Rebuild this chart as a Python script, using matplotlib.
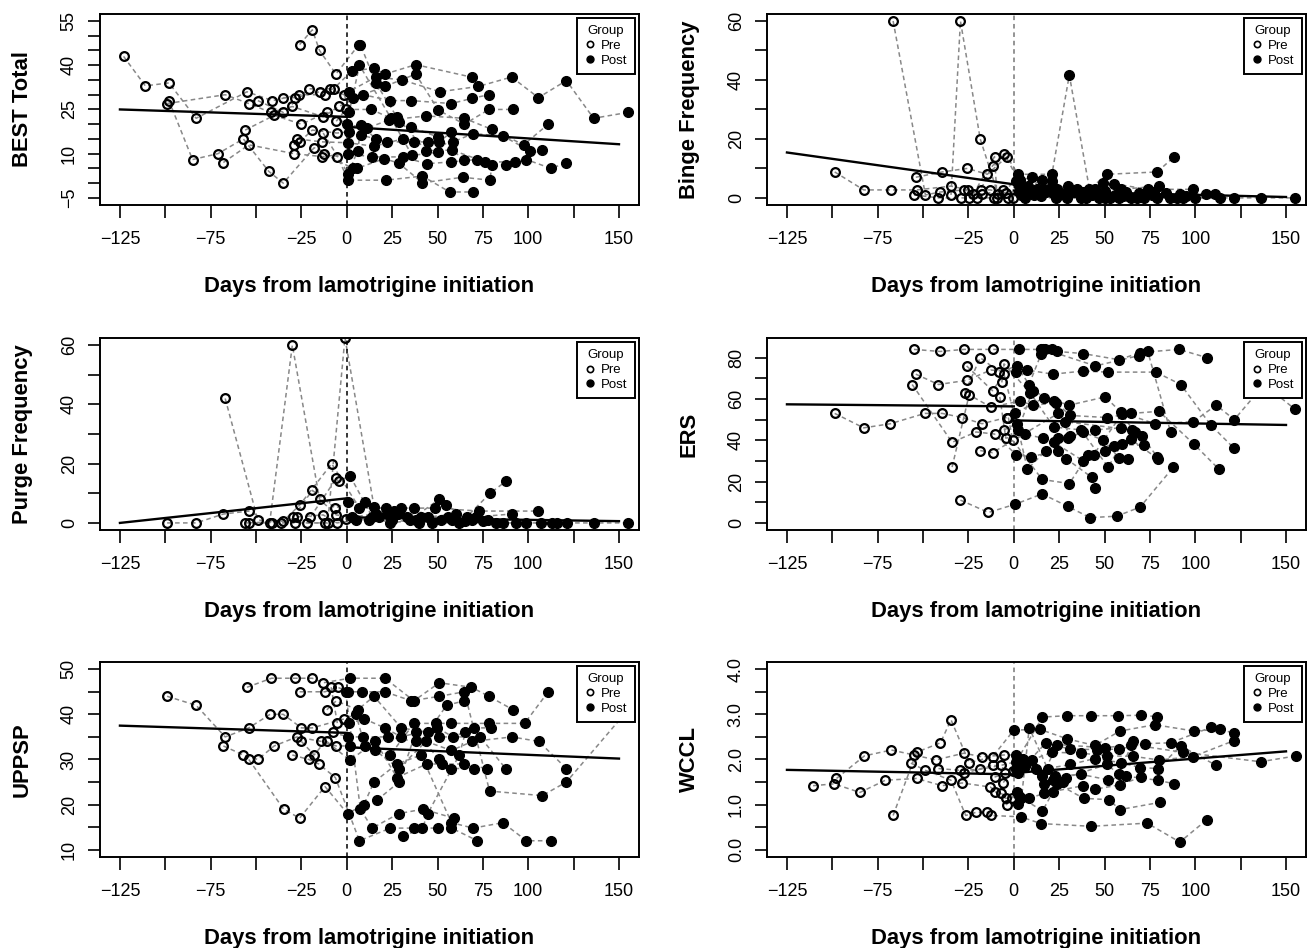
import matplotlib

matplotlib.use("Agg")

import matplotlib.pyplot as plt
from matplotlib.lines import Line2D

plt.rcParams["font.family"] = ["Liberation Sans", "DejaVu Sans"]

X_TICKS = [-125, -100, -75, -50, -25, 0, 25, 50, 75, 100, 125, 150]
X_TICK_LABELS = ["\u2212125", "", "\u221275", "", "\u221225", "0", "25", "50", "75", "100", "", "150"]
X_LABEL = "Days from lamotrigine initiation"

FIT_DAYS_PRE = [-125, 0]
FIT_DAYS_POST = [0, 150]

# each subject: list of (day, score) visits
BEST_SUBJECTS = [
    [(-123, 43), (-111, 33), (-98, 34), (-83, 22), (-55, 31), (-41, 28), (-26.5, 30), (-12, 30), (1, 31), (16, 36),
     (30.6, 35), (51.3, 31), (72.5, 32.8), (90.8, 36), (105.6, 29), (121, 34.8), (136, 22), (155, 24)],
    [(-98, 28), (-85, 8), (-71, 10), (-57, 15), (-43, 4), (-35, 0), (-18, 12), (-5.2, 9), (0.8, 1), (21.5, 1),
     (41.7, 2.4), (56.7, -3), (69.6, -3)],
    [(-99, 27), (-67, 30), (-54, 27), (-42, 24), (-30, 26), (-13, 22.5), (-4.4, 26), (9, 30), (24, 28), (35.6, 28),
     (57.7, 27), (69.2, 28.8), (78.3, 30)],
    [(-68, 7), (-54, 13), (-29, 10), (-13.5, 9), (0.8, 10), (14, 8.9), (30.8, 8.9), (44, 6.6), (57.7, 7.2), (71.5, 8),
     (87.5, 6), (99, 8), (112.5, 5), (121, 6.9)],
    [(-56, 18), (-40, 23), (-25, 20), (-11, 24), (0.2, 20), (11, 18.6), (23, 21.4), (43.7, 22.8), (64.8, 22), (80, 18.2),
     (97.5, 13), (111, 20)],
    [(-49, 28), (-35, 24), (-21, 32), (-9.4, 32), (3.3, 28.8), (21, 32.8), (38, 37), (50.4, 24.8), (64.8, 20),
     (78.3, 25), (91.7, 25)],
    [(-35, 29), (-28.5, 29), (-15, 31), (-7.3, 32), (2.7, 38), (15, 39), (21, 37), (38, 40.2), (69.2, 35.9)],
    [(-26, 47), (-19, 52), (-15, 45), (-6, 37), (6.7, 47), (7.5, 47), (16, 34), (27.7, 22.3), (43.7, 11), (58, 11.2),
     (76.3, 7.2), (92.7, 7.2), (107.5, 11.2)],
    [(-29, 13), (-27.5, 15), (-13.5, 14), (0.8, 13.7), (15, 12.5), (30.8, 15), (44.6, 14), (58.6, 14), (69.6, 16.8),
     (86, 16), (100.8, 11)],
    [(-26, 14), (-19, 18), (-5.4, 17), (1, 17.4), (8, 16.3), (22, 14), (37, 14), (51, 14), (57.7, 17.4)],
    [(-12.5, 10), (3.3, 5), (5.6, 5), (20.6, 8.3), (28.6, 6.8), (41.7, 0.1), (63.8, 2), (79, 1), (79.8, 6)],
    [(-5.8, 21), (-0.5, 25), (13.5, 25), (28.6, 20.8), (35.6, 19), (50, 15.7), (64.8, 7.7)],
    [(-1.3, 30), (1.3, 24), (7, 40), (24.4, 22), (36, 9.4), (50.4, 10.5)],
    [(-13, 17), (0.8, 3.2), (6, 11), (8, 19.7), (16, 15)],
]
BEST_FIT_PRE = [25.0, 22.5]
BEST_FIT_POST = [19.1, 13.2]

BINGE_SUBJECTS = [
    [(-98.7, 8.8), (-82.7, 2.7), (-67.5, 2.7), (-53.5, 2.7), (-34.6, 4), (-25, 2.7), (-13, 2.7), (-4.4, 1.7), (3, 2),
     (16.7, 2.9), (35, 2.9), (55, 4.8), (74, 2.9), (98.5, 2.9)],
    [(-66.5, 60), (-48.7, 1), (-40.4, 2), (-27.5, 2.7), (-17.5, 1.2), (-6, 2.7), (4, 1), (15, 0.8), (29.2, 0), (47, 0),
     (64.8, 0), (86, 0), (100, 0), (121.5, 0), (136, 0), (155, 0)],
    [(-55, 1), (-41.5, 0), (-29, 0), (-20.4, 0), (-10.8, 0), (-0.6, 0), (6, 0), (23.5, 0), (40, 0), (53, 0), (71.5, 0),
     (93, 0), (113.5, 0)],
    [(-54, 7), (-39.4, 8.8), (-25.6, 10), (-14.6, 8), (-3.7, 14), (2.3, 8), (21, 8), (30.6, 41.7), (41.7, 2.9),
     (51.3, 8), (79, 8.8), (88.5, 14)],
    [(-34.6, 1), (-29.4, 60), (-18.5, 20), (-8.7, 1.2), (1.3, 5.7), (10, 7), (21, 5.7), (37, 0), (50.4, 0), (67.7, 0),
     (79, 0), (91.7, 1.2), (106, 1.2), (111, 1.2)],
    [(-24.6, 0), (-18.3, 2.7), (-11.7, 10.9), (-5.2, 15), (5, 3), (15.8, 6), (21, 4), (30, 4), (44.6, 2.9), (49, 5.1),
     (59, 2.9), (80, 4)],
    [(-22.3, 1.2), (-10.6, 14), (-9.2, 0), (-3, 0), (8, 4), (21.5, 1.7), (50.4, 2.3), (60, 0.8), (63, 0.8)],
    [(2.7, 4), (7, 2.5), (11, 1), (18, 2), (25, 1), (33, 2), (43, 1), (56, 1), (62, 2), (69, 1.5), (76, 1), (84, 1.5),
     (95, 0.5)],
    [(3.5, 6), (9, 2), (13, 3), (24, 3), (28, 1.5), (38, 2), (46, 1.5), (58, 0), (70, 0.5), (77, 2), (90, 0)],
]
BINGE_FIT_PRE = [15.4, 4.6]
BINGE_FIT_POST = [2.5, 0.3]

PURGE_SUBJECTS = [
    [(-99, 0), (-83, 0), (-68, 3), (-54, 4), (-41, 0), (-28.5, 0), (-12, 0), (-0.6, 1.3), (12, 1), (25, 1), (40, 0),
     (58, 1), (75, 0.5), (99, 0), (121.5, 0), (136, 0), (155, 0)],
    [(-67, 42), (-49, 1), (-36, 0), (-27.5, 2), (-13, 2.7), (-5.4, 0), (5, 1), (18, 2), (33, 2), (47, 0), (62, 0),
     (86, 0), (107, 0), (113, 0)],
    [(-56, 0), (-42.5, 0), (-30, 60), (-15, 8), (-5.8, 2.7), (3, 2), (16, 3), (28, 3), (41, 2), (56, 2), (71, 2),
     (90.8, 3)],
    [(-54, 0), (-35, 0.6), (-26, 6), (-8.3, 20), (7, 5), (21.5, 5), (30, 5), (37, 5), (48.5, 5), (73, 4), (105.6, 4)],
    [(-29.4, 2), (-19, 11), (-6.3, 5), (0.8, 7), (10, 7), (22, 3), (35, 1), (51, 8), (54.6, 6), (66, 2), (79, 10),
     (87.5, 14)],
    [(-21.7, 0), (-10.5, 0), (-1, 62.5), (15, 5.5), (26, 4), (45, 2), (60, 3), (78, 1), (93, 0), (116, 0)],
    [(-20, 2), (-5.8, 15), (-4.4, 14), (1.7, 16), (14, 2), (24, 0), (38, 1), (52, 1), (65, 0.5), (69, 1), (82, 0)],
]
PURGE_FIT_PRE = [0.0, 8.3]
PURGE_FIT_POST = [1.9, 0.6]

ERS_SUBJECTS = [
    [(-98.7, 53), (-82.7, 46), (-68, 48), (-49, 53), (-39.4, 53), (-28.5, 51), (-17.5, 48), (-4, 51), (0.6, 53),
     (16.7, 60.6), (30.6, 57), (50.4, 61), (59, 53.6), (77.7, 48), (99, 49), (111.5, 57), (121.5, 50), (138, 67),
     (155, 55)],
    [(-55, 84), (-40.6, 83), (-27.5, 84), (-11.7, 84), (2.7, 84), (15, 84), (16, 84), (21, 84), (24, 83), (38, 82),
     (58, 79), (69.6, 82.5), (91, 84), (106.5, 80)],
    [(-54, 72), (-41.5, 67), (-26, 69), (-12.7, 74), (1.3, 73), (7.5, 74), (21.5, 72), (38, 73.5), (52, 73),
     (78.3, 73), (92, 67), (108.5, 47.4), (121.5, 36)],
    [(-56, 67), (-34, 39), (-20.8, 44), (-10.6, 43), (1.3, 33), (9.4, 32), (24.4, 35), (29, 31), (43, 22), (45, 17)],
    [(-34, 27), (-24.6, 62), (-12.5, 56), (3.3, 59), (10.4, 57), (23.5, 58), (31, 52), (51.3, 51), (64.8, 53),
     (80, 54), (99.4, 38), (113, 26)],
    [(-29.4, 11), (-14, 5), (0.8, 9), (15.6, 14), (29.6, 8), (42, 2.5), (56.7, 3.2), (69.6, 7.6), (88, 27)],
    [(-27, 63), (-18.5, 80), (-7.9, 73), (1.7, 76), (8.4, 67), (15, 81.6), (17, 84), (45, 76), (69, 81), (73.8, 83),
     (86.4, 44)],
    [(-26, 76), (-11.7, 64), (-5.4, 72), (2.3, 45), (10.4, 64), (22, 59), (31, 42), (44.6, 45), (59, 46), (70.6, 42),
     (79, 32)],
    [(-7.7, 61), (-4.4, 41), (6, 43), (16, 41), (22, 39), (38.3, 30), (50.4, 35), (55, 37), (64.5, 40.4), (79.4, 31)],
    [(-6.6, 68), (-5.4, 77), (9, 63), (22, 46.4), (37, 45), (52, 27), (59.4, 38), (72, 37.5)],
    [(-5.4, 45), (1.7, 48), (7.5, 26), (17.7, 35), (24.4, 41), (30, 41), (38, 44), (49.4, 40), (58, 31.5), (63, 31)],
    [(-3, 51), (-0.6, 40), (15.6, 21), (30.6, 19), (41, 33), (44, 33), (59.4, 52.5), (66.7, 44)],
    [(-18.5, 35), (-11.7, 34), (24.5, 53), (28, 49), (65, 45)],
]
ERS_FIT_PRE = [57.4, 56.4]
ERS_FIT_POST = [49.6, 47.4]

UPPSP_SUBJECTS = [
    [(-99, 44), (-83, 42), (-67, 35), (-54, 37), (-42.3, 40), (-35, 40), (-25, 37), (-19, 37), (-1.3, 39), (5, 40),
     (10, 33), (24, 31), (37, 38), (49, 38), (57.7, 38), (78.3, 38), (98, 38), (111, 45)],
    [(-68, 33), (-57, 31), (-49, 30), (-40, 33), (-27.5, 35), (-14, 34), (-5.8, 33), (1.7, 33), (15.8, 32),
     (28.6, 28), (43.7, 34), (57.7, 32), (69.2, 34), (91, 35), (105.8, 34), (121, 28)],
    [(-55, 46), (-41.5, 48), (-28.5, 48), (-19, 48), (-13, 47), (1.7, 48), (21, 48), (37, 43), (51, 47), (68.7, 46),
     (78.3, 44), (91.7, 41)],
    [(-54, 30), (-34.8, 19), (-26, 17), (-12, 24), (0.4, 18), (9.4, 20), (15, 25), (27.7, 29), (41, 31), (57.7, 16),
     (69.6, 14.8), (86, 16), (99, 12), (112.5, 12)],
    [(-30, 31), (-21, 30), (-15.4, 29), (-6.3, 26), (7, 12), (24, 14.8), (37, 14.8), (50.4, 14.8), (57.7, 14.8),
     (72, 12)],
    [(-26, 45), (-12, 45), (-5, 46), (0.8, 45), (8.4, 45), (21, 45), (35.6, 43), (51, 44), (64.8, 45), (78.7, 23),
     (107.7, 22), (121, 25), (155, 41)],
    [(-25, 34), (-18, 31), (-7.8, 36), (0.8, 35), (9, 35), (22.5, 35), (38, 34), (51, 35), (73.5, 35), (87.5, 28)],
    [(-11, 41), (-5.8, 43), (6, 41), (15, 44), (30, 37), (44.6, 36), (55, 42), (64.8, 43)],
    [(-8.6, 46), (-5.2, 38), (1.3, 38), (9.6, 39), (21, 37), (30, 35), (49.8, 37), (58.6, 35), (70, 37), (79.3, 37)],
    [(-11, 34), (1.7, 29.8), (15.8, 34), (27.7, 26), (44, 29), (52.3, 29), (64.8, 29), (77, 28)],
    [(-0.6, 45), (7.5, 19), (14, 14.8), (28.6, 18), (42, 19), (59, 17)],
    [(16.7, 21), (28.8, 25), (38, 36), (51, 30), (57.7, 28), (70, 28)],
    [(30.8, 13), (41.7, 14.8), (44.6, 18), (62, 31), (65.4, 36)],
]
UPPSP_FIT_PRE = [37.5, 35.9]
UPPSP_FIT_POST = [32.7, 30.2]

WCCL_SUBJECTS = [
    [(-110.6, 1.42), (-99, 1.46), (-84.8, 1.27), (-70.8, 1.54), (-53.6, 1.58), (-39.6, 1.42), (-28.5, 1.48),
     (-13, 1.39), (-4.4, 1.14), (2.7, 1.19), (15.8, 0.86), (24, 1.46), (38.5, 1.14), (52.3, 1.11), (58.5, 0.89),
     (80.6, 1.05)],
    [(-97.7, 1.58), (-82.3, 2.08), (-67.5, 2.21), (-55, 2.1), (-43, 1.99), (-27.5, 2.14), (-17.5, 2.06), (-5.4, 2.1),
     (1.3, 2.1), (10, 1.99), (21, 2.16), (37.3, 2.14), (51.3, 2.08), (65.8, 2.07), (80, 1.99), (98.5, 2.06),
     (121.5, 2.42)],
    [(-66.5, 0.76), (-53.6, 2.16), (-40.4, 2.37), (-34.6, 2.88), (-24.6, 1.93), (-11.7, 2.06), (0, 2.65),
     (14.2, 2.67), (29.2, 2.46), (44.6, 2.31), (58.5, 2.63), (77.7, 2.77), (99.4, 2.63), (113.5, 2.67),
     (121.5, 2.58)],
    [(-56.7, 1.92), (-48.7, 1.76), (-34.6, 1.54), (-26.5, 0.76), (-20.8, 0.83), (-14.6, 0.83), (-12.5, 0.76),
     (3.8, 0.73), (15, 0.58), (42.7, 0.52), (73.5, 0.59), (91.5, 0.17), (106.5, 0.67)],
    [(-41.5, 1.8), (-29.8, 1.76), (-18.8, 1.78), (-7.1, 1.87), (1.3, 1.95), (15.8, 2.94), (29.4, 2.97), (42.7, 2.97),
     (57.5, 2.97), (70, 2.98), (78.7, 2.95)],
    [(-27.5, 1.69), (-11.2, 1.88), (-0.6, 1.74), (6, 1.86), (17.7, 2.37), (30.8, 2.23), (45.6, 2.22), (58, 2.23),
     (72.5, 2.35), (86.4, 2.37), (108.5, 2.71)],
    [(-10.6, 1.61), (-4.8, 1.69), (2.3, 1.7), (12.5, 1.8), (22.5, 1.63), (37, 1.67), (52, 1.55), (62, 1.63),
     (79.4, 1.54), (88.5, 1.46)],
    [(-10.2, 1.29), (-4, 1.0), (1.7, 1.29), (8.5, 1.14), (16.7, 1.25), (21.5, 1.29), (38.3, 1.42), (44.6, 1.34),
     (58.5, 1.44), (70.2, 1.61)],
    [(-7.3, 1.25), (-1.2, 1.14), (2.3, 1.02), (4.2, 1.14), (8.5, 2.7), (18.6, 1.8), (31.2, 1.89), (44.6, 2.02),
     (59, 1.93), (69.6, 1.82), (79.4, 1.8), (92, 2.3), (111.5, 1.87)],
    [(-5.8, 1.49), (1.3, 1.8), (5.2, 2.0), (15.8, 1.64), (24, 2.33), (50.4, 2.26), (64.8, 2.33), (93, 2.16),
     (136, 1.95), (155.6, 2.08)],
    [(16.7, 1.45), (21.5, 1.54), (27, 1.5), (29, 1.6), (51.3, 1.89), (58, 1.67), (65.8, 2.42)],
]
WCCL_FIT_PRE = [1.77, 1.67]
WCCL_FIT_POST = [1.70, 2.18]

PANELS = [
    {"ylabel": "BEST Total", "subjects": BEST_SUBJECTS, "fit_pre": BEST_FIT_PRE, "fit_post": BEST_FIT_POST,
     "ylim": (-7.4, 57.4), "yticks": list(range(-5, 56, 5)), "label_every": 3, "fmt": "{:g}", "vline": "black"},
    {"ylabel": "Binge Frequency", "subjects": BINGE_SUBJECTS, "fit_pre": BINGE_FIT_PRE, "fit_post": BINGE_FIT_POST,
     "ylim": (-2.4, 62.4), "yticks": list(range(0, 61, 10)), "label_every": 2, "fmt": "{:g}", "vline": "#777777"},
    {"ylabel": "Purge Frequency", "subjects": PURGE_SUBJECTS, "fit_pre": PURGE_FIT_PRE, "fit_post": PURGE_FIT_POST,
     "ylim": (-2.4, 62.4), "yticks": list(range(0, 61, 10)), "label_every": 2, "fmt": "{:g}", "vline": "black"},
    {"ylabel": "ERS", "subjects": ERS_SUBJECTS, "fit_pre": ERS_FIT_PRE, "fit_post": ERS_FIT_POST,
     "ylim": (-3.5, 89.5), "yticks": list(range(0, 81, 10)), "label_every": 2, "fmt": "{:g}", "vline": "#777777"},
    {"ylabel": "UPPSP", "subjects": UPPSP_SUBJECTS, "fit_pre": UPPSP_FIT_PRE, "fit_post": UPPSP_FIT_POST,
     "ylim": (8.4, 51.6), "yticks": list(range(10, 51, 5)), "label_every": 2, "fmt": "{:g}", "vline": "black"},
    {"ylabel": "WCCL", "subjects": WCCL_SUBJECTS, "fit_pre": WCCL_FIT_PRE, "fit_post": WCCL_FIT_POST,
     "ylim": (-0.16, 4.16), "yticks": [i * 0.5 for i in range(9)], "label_every": 2, "fmt": "{:.1f}",
     "vline": "#777777"},
]

# axes boxes in figure fractions: left, bottom, width, height
AXES_BOXES = [
    [0.0762, 0.7838, 0.4108, 0.2015],
    [0.5846, 0.7838, 0.4108, 0.2015],
    [0.0762, 0.4409, 0.4108, 0.2025],
    [0.5846, 0.4409, 0.4108, 0.2025],
    [0.0762, 0.0960, 0.4108, 0.2057],
    [0.5846, 0.0960, 0.4108, 0.2057],
]


def format_tick(value, fmt):
    text = fmt.format(value)
    return text.replace("-", "\u2212")


def draw_panel(ax, panel):
    pre_days, pre_vals, post_days, post_vals = [], [], [], []

    for subject in panel["subjects"]:
        days = [d for d, _ in subject]
        vals = [v for _, v in subject]
        ax.plot(days, vals, linestyle=(0, (3, 2.2)), color="#888888", linewidth=1.1, zorder=1)
        for d, v in subject:
            if d < 0:
                pre_days.append(d)
                pre_vals.append(v)
            else:
                post_days.append(d)
                post_vals.append(v)

    ax.plot(pre_days, pre_vals, "o", markersize=6.3, markerfacecolor="none",
            markeredgecolor="black", markeredgewidth=1.6, zorder=3)
    ax.plot(post_days, post_vals, "o", markersize=7.0, markerfacecolor="black",
            markeredgecolor="black", markeredgewidth=1.0, zorder=3)

    ax.axvline(0, linestyle=(0, (3, 2.5)), color=panel["vline"], linewidth=1.1, zorder=2)

    ax.plot(FIT_DAYS_PRE, panel["fit_pre"], color="black", linewidth=1.7, zorder=4)
    ax.plot(FIT_DAYS_POST, panel["fit_post"], color="black", linewidth=1.7, zorder=4)

    ax.set_xlim(-136, 161)
    ax.set_ylim(*panel["ylim"])

    ax.set_xticks(X_TICKS)
    ax.set_xticklabels(X_TICK_LABELS, fontsize=13)

    yticks = panel["yticks"]
    ylabels = [format_tick(t, panel["fmt"]) if i % panel["label_every"] == 0 else ""
               for i, t in enumerate(yticks)]
    ax.set_yticks(yticks)
    ax.set_yticklabels(ylabels, fontsize=13, rotation=90, va="center")

    ax.tick_params(axis="both", direction="out", length=9, width=1.2, color="black")
    ax.tick_params(axis="x", pad=10)
    ax.tick_params(axis="y", pad=7)

    for spine in ax.spines.values():
        spine.set_linewidth(1.4)
        spine.set_color("black")

    ax.set_xlabel(X_LABEL, fontsize=15.8, fontweight="bold", labelpad=20)
    ax.set_ylabel(panel["ylabel"], fontsize=15.8, fontweight="bold", labelpad=20)

    handles = [
        Line2D([], [], marker="o", linestyle="none", markersize=4.5, markerfacecolor="none",
               markeredgecolor="black", markeredgewidth=1.2),
        Line2D([], [], marker="o", linestyle="none", markersize=5, markerfacecolor="black",
               markeredgecolor="black"),
    ]
    legend = ax.legend(handles, ["Pre", "Post"], title="Group", loc="upper right", fontsize=9.5,
                       title_fontsize=9.5, frameon=True, fancybox=False, edgecolor="black",
                       framealpha=1, borderaxespad=0.3, handlelength=0.9, handletextpad=0.4,
                       labelspacing=0.2, borderpad=0.55)
    legend.get_frame().set_linewidth(1.4)
    legend.set_zorder(10)


def main() -> None:
    fig = plt.figure(figsize=(13.12, 9.48), dpi=100)

    for panel, box in zip(PANELS, AXES_BOXES):
        ax = fig.add_axes(box)
        draw_panel(ax, panel)

    fig.savefig("out.png", dpi=100, facecolor="white")
    plt.close(fig)


if __name__ == "__main__":
    main()
